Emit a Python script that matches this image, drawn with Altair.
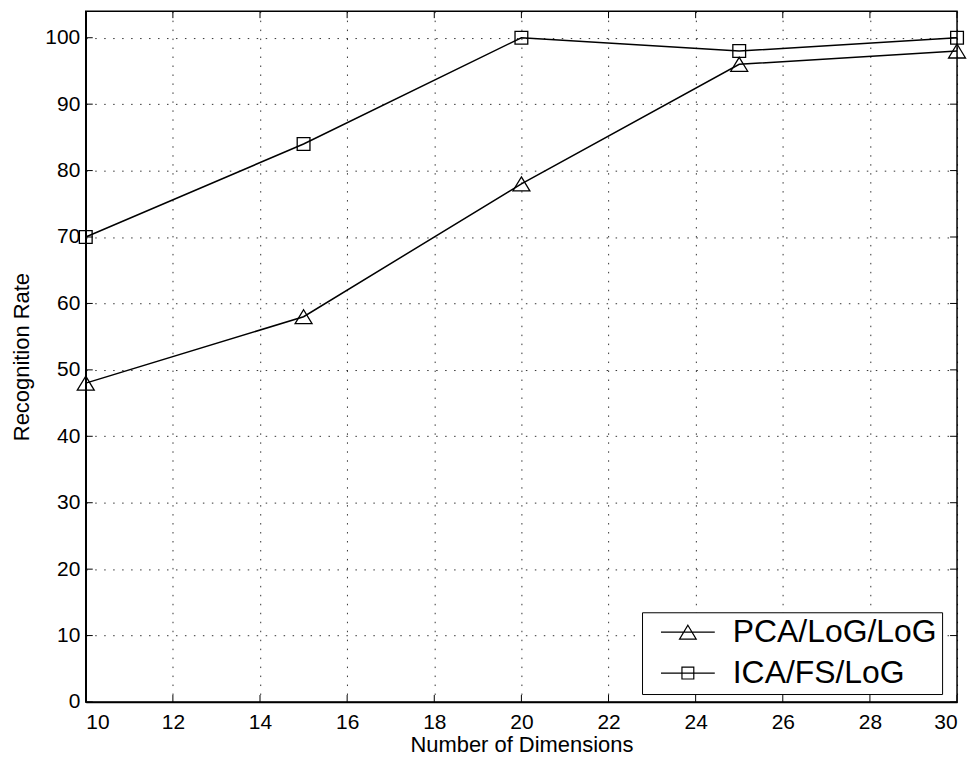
import altair as alt
import pandas as pd

# ---- data ----
dims = [10, 15, 20, 25, 30]
pca_log_log = [48, 58, 78, 96, 98]
ica_fs_log = [70, 84, 100, 98, 100]
series_names = ["PCA/LoG/LoG", "ICA/FS/LoG"]
x_ticks = [10, 12, 14, 16, 18, 20, 22, 24, 26, 28, 30]
y_ticks = [0, 10, 20, 30, 40, 50, 60, 70, 80, 90, 100]

W, H = 874, 693
FONT = "Liberation Sans"

df = pd.DataFrame({
    "dim": dims * 2,
    "rate": pca_log_log + ica_fs_log,
    "method": [series_names[0]] * len(dims) + [series_names[1]] * len(dims),
})
xt = pd.DataFrame({"dim": x_ticks})
yt = pd.DataFrame({"rate": y_ticks})

x_scale = alt.Scale(domain=[10, 30], nice=False, zero=False)
y_scale = alt.Scale(domain=[0, 104], nice=False)

x_axis = alt.Axis(values=x_ticks, title="Number of Dimensions", grid=True, ticks=False,
                  labelPadding=10, titlePadding=2, format="d")
y_axis = alt.Axis(values=y_ticks, title="Recognition Rate", grid=True, ticks=False,
                  labelPadding=6, titlePadding=11, format="d")

X = alt.X("dim:Q", scale=x_scale, axis=x_axis)
Y = alt.Y("rate:Q", scale=y_scale, axis=y_axis)

tri_plot = "M0,-0.7L0.85,0.7L-0.85,0.7Z"
sq_plot = "M-0.64,-0.64H0.64V0.64H-0.64Z"
tri_leg = "M-1,0H1M0,-0.26L0.31,0.26L-0.31,0.26Z"
sq_leg = "M-1,0H1M-0.22,-0.22H0.22V0.22H-0.22Z"

lines = alt.Chart(df).mark_line(color="black", strokeWidth=1.5).encode(
    x=X, y=Y, detail="method:N")

points = alt.Chart(df).mark_point(filled=False, color="black", strokeWidth=1.3,
                                  size=400, opacity=1).encode(
    x=X, y=Y,
    shape=alt.Shape("method:N",
                    scale=alt.Scale(domain=series_names, range=[tri_plot, sq_plot]),
                    legend=None))

# legend-only layer (no rows drawn): line + marker glyphs
legend_layer = alt.Chart(df).transform_filter("false").mark_point(
    filled=False, color="black", strokeWidth=1.2, opacity=1).encode(
    x=X, y=Y,
    shape=alt.Shape("method:N",
                    scale=alt.Scale(domain=series_names, range=[tri_leg, sq_leg]),
                    legend=alt.Legend(
                        title=None, orient="none", legendX=558, legendY=603,
                        fillColor="white", strokeColor="black", padding=5,
                        symbolSize=2916, symbolOffset=13, labelOffset=17,
                        clipHeight=30, rowPadding=9,
                        labelFontSize=32, labelFont=FONT,
                        labelColor="black", labelLimit=500,
                        symbolStrokeColor="black",
                        symbolStrokeWidth=1.2, symbolFillColor="transparent",
                        labelExpr="datum.label + '   '",
                    )))

tick_len = 7
xt_bottom = alt.Chart(xt).mark_rule(color="black", strokeWidth=1).encode(
    x=X, y=alt.value(H), y2=alt.value(H - tick_len))
xt_top = alt.Chart(xt).mark_rule(color="black", strokeWidth=1).encode(
    x=X, y=alt.value(0), y2=alt.value(tick_len))
yt_left = alt.Chart(yt).mark_rule(color="black", strokeWidth=1).encode(
    y=Y, x=alt.value(0), x2=alt.value(tick_len))
yt_right = alt.Chart(yt).mark_rule(color="black", strokeWidth=1).encode(
    y=Y, x=alt.value(W), x2=alt.value(W - tick_len))

chart = alt.layer(lines, points, legend_layer, xt_bottom, xt_top, yt_left, yt_right).resolve_scale(
    shape="independent"
).resolve_legend(
    shape="independent"
).properties(
    width=W, height=H, background="white",
    autosize=alt.AutoSizeParams(type="none"),
    padding={"left": 78, "top": 2, "right": 12, "bottom": 54},
).configure_view(
    stroke="black", strokeWidth=1.5
).configure_axis(
    domainColor="black", domainWidth=1.5,
    gridColor="black", gridDash=[1.5, 7.5], gridOpacity=0.8, gridWidth=1,
    labelFont=FONT, labelFontSize=21, labelColor="black",
    titleFont=FONT, titleFontSize=22, titleColor="black", titleFontWeight="normal",
)

chart.save("out.html", embed_options={"renderer": "svg", "actions": False})
